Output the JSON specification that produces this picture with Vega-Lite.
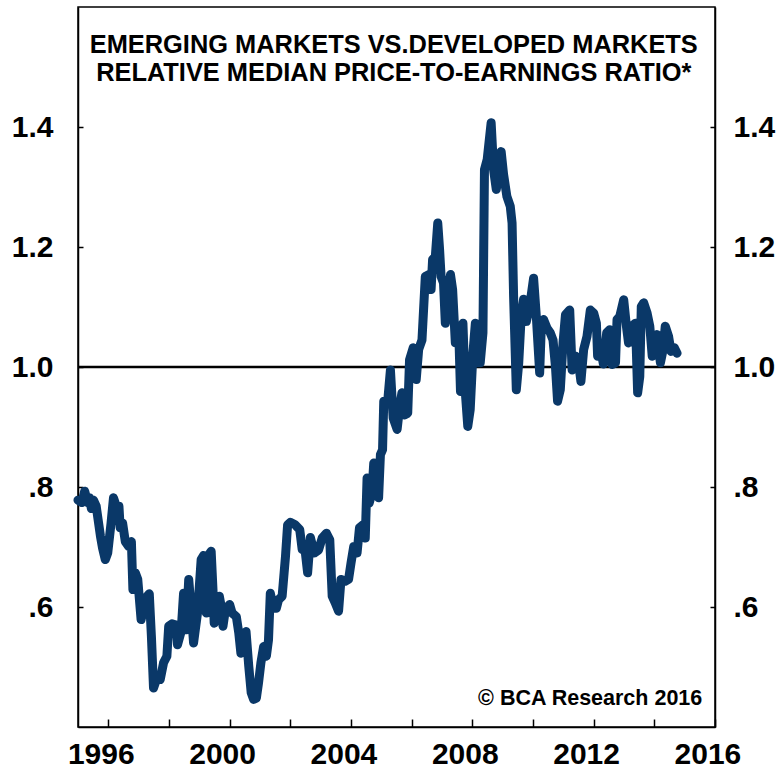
{
  "$schema": "https://vega.github.io/schema/vega-lite/v6.json",
  "width": 637,
  "height": 720,
  "autosize": {"type": "none"},
  "padding": {"left": 78, "top": 7, "right": 67, "bottom": 43},
  "background": "white",
  "config": {
    "view": {"stroke": "black", "strokeWidth": 1.5},
    "axis": {
      "grid": false,
      "domainColor": "black",
      "domainWidth": 1.5,
      "tickColor": "black",
      "tickWidth": 1.5,
      "labelFont": "Liberation Sans",
      "labelFontWeight": "bold",
      "labelFontSize": 30,
      "labelColor": "black",
      "labelOverlap": false,
      "labelFlush": false,
      "title": null
    }
  },
  "data": {
    "values": [
      {"t": 1995.25, "v": 0.778}, {"t": 1995.38, "v": 0.774}, {"t": 1995.47, "v": 0.793}, {"t": 1995.57, "v": 0.774},
      {"t": 1995.63, "v": 0.782}, {"t": 1995.69, "v": 0.764}, {"t": 1995.76, "v": 0.778}, {"t": 1995.85, "v": 0.768},
      {"t": 1995.99, "v": 0.718}, {"t": 1996.06, "v": 0.698}, {"t": 1996.15, "v": 0.679}, {"t": 1996.23, "v": 0.690},
      {"t": 1996.34, "v": 0.740}, {"t": 1996.42, "v": 0.782}, {"t": 1996.51, "v": 0.768}, {"t": 1996.60, "v": 0.768},
      {"t": 1996.64, "v": 0.732}, {"t": 1996.72, "v": 0.740}, {"t": 1996.81, "v": 0.709}, {"t": 1996.92, "v": 0.701},
      {"t": 1997.01, "v": 0.709}, {"t": 1997.06, "v": 0.629}, {"t": 1997.14, "v": 0.657}, {"t": 1997.22, "v": 0.646},
      {"t": 1997.33, "v": 0.579}, {"t": 1997.41, "v": 0.596}, {"t": 1997.53, "v": 0.618}, {"t": 1997.60, "v": 0.622},
      {"t": 1997.67, "v": 0.551}, {"t": 1997.74, "v": 0.465}, {"t": 1997.87, "v": 0.484}, {"t": 1997.96, "v": 0.479},
      {"t": 1998.07, "v": 0.507}, {"t": 1998.18, "v": 0.518}, {"t": 1998.24, "v": 0.568}, {"t": 1998.35, "v": 0.572},
      {"t": 1998.49, "v": 0.570}, {"t": 1998.53, "v": 0.537}, {"t": 1998.65, "v": 0.559}, {"t": 1998.73, "v": 0.623},
      {"t": 1998.82, "v": 0.562}, {"t": 1998.90, "v": 0.646}, {"t": 1998.98, "v": 0.596}, {"t": 1999.06, "v": 0.540},
      {"t": 1999.19, "v": 0.590}, {"t": 1999.31, "v": 0.679}, {"t": 1999.39, "v": 0.686}, {"t": 1999.48, "v": 0.590},
      {"t": 1999.56, "v": 0.687}, {"t": 1999.64, "v": 0.693}, {"t": 1999.70, "v": 0.629}, {"t": 1999.74, "v": 0.573},
      {"t": 1999.83, "v": 0.590}, {"t": 1999.91, "v": 0.618}, {"t": 1999.97, "v": 0.601}, {"t": 2000.03, "v": 0.568},
      {"t": 2000.11, "v": 0.596}, {"t": 2000.25, "v": 0.604}, {"t": 2000.33, "v": 0.590}, {"t": 2000.47, "v": 0.584},
      {"t": 2000.55, "v": 0.557}, {"t": 2000.62, "v": 0.523}, {"t": 2000.71, "v": 0.545}, {"t": 2000.79, "v": 0.559},
      {"t": 2000.88, "v": 0.501}, {"t": 2000.96, "v": 0.457}, {"t": 2001.04, "v": 0.446}, {"t": 2001.13, "v": 0.448},
      {"t": 2001.20, "v": 0.473}, {"t": 2001.28, "v": 0.507}, {"t": 2001.37, "v": 0.534}, {"t": 2001.46, "v": 0.518},
      {"t": 2001.53, "v": 0.545}, {"t": 2001.59, "v": 0.623}, {"t": 2001.70, "v": 0.598}, {"t": 2001.79, "v": 0.598},
      {"t": 2001.86, "v": 0.612}, {"t": 2001.98, "v": 0.618}, {"t": 2002.09, "v": 0.684}, {"t": 2002.16, "v": 0.737},
      {"t": 2002.25, "v": 0.741}, {"t": 2002.41, "v": 0.737}, {"t": 2002.56, "v": 0.729}, {"t": 2002.64, "v": 0.696},
      {"t": 2002.74, "v": 0.693}, {"t": 2002.82, "v": 0.657}, {"t": 2002.91, "v": 0.716}, {"t": 2003.04, "v": 0.690},
      {"t": 2003.18, "v": 0.695}, {"t": 2003.30, "v": 0.715}, {"t": 2003.44, "v": 0.723}, {"t": 2003.55, "v": 0.712},
      {"t": 2003.63, "v": 0.618}, {"t": 2003.73, "v": 0.607}, {"t": 2003.84, "v": 0.593}, {"t": 2003.92, "v": 0.646},
      {"t": 2004.06, "v": 0.643}, {"t": 2004.17, "v": 0.646}, {"t": 2004.25, "v": 0.673}, {"t": 2004.34, "v": 0.701},
      {"t": 2004.45, "v": 0.690}, {"t": 2004.53, "v": 0.732}, {"t": 2004.65, "v": 0.737}, {"t": 2004.72, "v": 0.715},
      {"t": 2004.78, "v": 0.815}, {"t": 2004.85, "v": 0.773}, {"t": 2004.94, "v": 0.790}, {"t": 2005.00, "v": 0.840},
      {"t": 2005.09, "v": 0.801}, {"t": 2005.16, "v": 0.782}, {"t": 2005.22, "v": 0.854}, {"t": 2005.29, "v": 0.862},
      {"t": 2005.33, "v": 0.943}, {"t": 2005.46, "v": 0.943}, {"t": 2005.55, "v": 0.995}, {"t": 2005.64, "v": 0.915},
      {"t": 2005.77, "v": 0.896}, {"t": 2005.85, "v": 0.932}, {"t": 2005.93, "v": 0.957}, {"t": 2006.01, "v": 0.920},
      {"t": 2006.12, "v": 0.923}, {"t": 2006.18, "v": 1.012}, {"t": 2006.30, "v": 1.032}, {"t": 2006.40, "v": 0.979},
      {"t": 2006.48, "v": 1.029}, {"t": 2006.59, "v": 1.045}, {"t": 2006.70, "v": 1.151}, {"t": 2006.81, "v": 1.154},
      {"t": 2006.89, "v": 1.129}, {"t": 2006.94, "v": 1.179}, {"t": 2007.03, "v": 1.184}, {"t": 2007.11, "v": 1.240},
      {"t": 2007.17, "v": 1.196}, {"t": 2007.22, "v": 1.151}, {"t": 2007.30, "v": 1.140}, {"t": 2007.36, "v": 1.073},
      {"t": 2007.44, "v": 1.107}, {"t": 2007.53, "v": 1.154}, {"t": 2007.60, "v": 1.129}, {"t": 2007.69, "v": 1.040},
      {"t": 2007.80, "v": 1.062}, {"t": 2007.86, "v": 0.959}, {"t": 2007.94, "v": 1.073}, {"t": 2008.02, "v": 0.957},
      {"t": 2008.10, "v": 0.901}, {"t": 2008.18, "v": 0.929}, {"t": 2008.27, "v": 1.023}, {"t": 2008.35, "v": 1.073},
      {"t": 2008.43, "v": 1.007}, {"t": 2008.51, "v": 1.007}, {"t": 2008.60, "v": 1.057}, {"t": 2008.65, "v": 1.329},
      {"t": 2008.74, "v": 1.346}, {"t": 2008.87, "v": 1.407}, {"t": 2008.95, "v": 1.329}, {"t": 2009.04, "v": 1.296},
      {"t": 2009.12, "v": 1.323}, {"t": 2009.20, "v": 1.359}, {"t": 2009.28, "v": 1.321}, {"t": 2009.39, "v": 1.284},
      {"t": 2009.50, "v": 1.268}, {"t": 2009.56, "v": 1.240}, {"t": 2009.61, "v": 1.118}, {"t": 2009.70, "v": 0.962},
      {"t": 2009.78, "v": 1.007}, {"t": 2009.86, "v": 1.084}, {"t": 2009.94, "v": 1.113}, {"t": 2010.03, "v": 1.076},
      {"t": 2010.14, "v": 1.101}, {"t": 2010.27, "v": 1.148}, {"t": 2010.36, "v": 1.084}, {"t": 2010.47, "v": 0.990},
      {"t": 2010.53, "v": 1.076}, {"t": 2010.60, "v": 1.079}, {"t": 2010.71, "v": 1.065}, {"t": 2010.82, "v": 1.057},
      {"t": 2010.91, "v": 1.045}, {"t": 2010.99, "v": 1.001}, {"t": 2011.06, "v": 0.943}, {"t": 2011.15, "v": 0.962},
      {"t": 2011.24, "v": 1.040}, {"t": 2011.32, "v": 1.087}, {"t": 2011.46, "v": 1.095}, {"t": 2011.54, "v": 0.995},
      {"t": 2011.65, "v": 1.018}, {"t": 2011.74, "v": 1.012}, {"t": 2011.83, "v": 0.976}, {"t": 2011.92, "v": 1.029},
      {"t": 2012.03, "v": 1.051}, {"t": 2012.14, "v": 1.095}, {"t": 2012.25, "v": 1.090}, {"t": 2012.34, "v": 1.073},
      {"t": 2012.38, "v": 1.018}, {"t": 2012.47, "v": 1.033}, {"t": 2012.57, "v": 1.005}, {"t": 2012.68, "v": 1.057},
      {"t": 2012.78, "v": 1.062}, {"t": 2012.86, "v": 1.004}, {"t": 2012.97, "v": 1.007}, {"t": 2013.02, "v": 1.079},
      {"t": 2013.11, "v": 1.084}, {"t": 2013.24, "v": 1.112}, {"t": 2013.33, "v": 1.068}, {"t": 2013.40, "v": 1.040},
      {"t": 2013.55, "v": 1.070}, {"t": 2013.63, "v": 1.073}, {"t": 2013.70, "v": 0.957}, {"t": 2013.77, "v": 0.984},
      {"t": 2013.82, "v": 1.101}, {"t": 2013.90, "v": 1.107}, {"t": 2014.01, "v": 1.090}, {"t": 2014.10, "v": 1.068},
      {"t": 2014.18, "v": 1.018}, {"t": 2014.26, "v": 1.051}, {"t": 2014.34, "v": 1.054}, {"t": 2014.45, "v": 1.007},
      {"t": 2014.54, "v": 1.029}, {"t": 2014.61, "v": 1.068}, {"t": 2014.72, "v": 1.051}, {"t": 2014.80, "v": 1.026},
      {"t": 2014.91, "v": 1.032}, {"t": 2015.00, "v": 1.023}
    ]
  },
  "layer": [
    {
      "data": {"values": [{}]},
      "mark": {"type": "rule", "color": "black", "strokeWidth": 2.5},
      "encoding": {
        "y": {
          "datum": 1.0,
          "type": "quantitative",
          "scale": {"domain": [0.4, 1.6], "nice": false, "zero": false},
          "axis": {
            "orient": "left",
            "values": [0.6, 0.8, 1.0, 1.2, 1.4],
            "labelExpr": "datum.value < 1 ? replace(format(datum.value, '.1f'), '0.', '.') : format(datum.value, '.1f')",
            "tickSize": -5,
            "labelPadding": 30,
            "labelAlign": "right"
          }
        }
      }
    },
    {
      "mark": {"type": "line", "color": "#0a3868", "strokeWidth": 9, "strokeJoin": "round", "strokeCap": "round"},
      "encoding": {
        "x": {
          "field": "t",
          "type": "quantitative",
          "scale": {"domain": [1995.25, 2016.25], "nice": false, "zero": false},
          "axis": {
            "orient": "bottom",
            "values": [1996, 1997, 1998, 1999, 2000, 2001, 2002, 2003, 2004, 2005, 2006, 2007, 2008, 2009, 2010, 2011, 2012, 2013, 2014, 2015, 2016],
            "labelExpr": "datum.value % 4 == 0 ? format(datum.value, 'd') : ''",
            "tickOffset": 7.6,
            "labelOffset": -7.6,
            "tickSize": -8,
            "labelPadding": 20
          }
        },
        "y": {
          "field": "v",
          "type": "quantitative",
          "scale": {"domain": [0.4, 1.6], "nice": false, "zero": false},
          "axis": {
            "orient": "right",
            "values": [0.6, 0.8, 1.0, 1.2, 1.4],
            "labelExpr": "datum.value < 1 ? replace(format(datum.value, '.1f'), '0.', '.') : format(datum.value, '.1f')",
            "tickSize": -5,
            "labelPadding": 23,
            "labelAlign": "left"
          }
        }
      }
    },
    {
      "data": {"values": [{}]},
      "mark": {"type": "text", "text": "EMERGING MARKETS VS.DEVELOPED MARKETS", "font": "Liberation Sans", "fontWeight": "bold", "fontSize": 25.4, "align": "center", "baseline": "middle", "color": "black"},
      "encoding": {
        "x": {"datum": 2005.66, "type": "quantitative"},
        "y": {"datum": 1.537, "type": "quantitative", "axis": null}
      }
    },
    {
      "data": {"values": [{}]},
      "mark": {"type": "text", "text": "RELATIVE MEDIAN PRICE-TO-EARNINGS RATIO*", "font": "Liberation Sans", "fontWeight": "bold", "fontSize": 25.4, "align": "center", "baseline": "middle", "color": "black"},
      "encoding": {
        "x": {"datum": 2005.66, "type": "quantitative"},
        "y": {"datum": 1.49, "type": "quantitative", "axis": null}
      }
    },
    {
      "data": {"values": [{}]},
      "mark": {"type": "text", "text": "© BCA Research 2016", "font": "Liberation Sans", "fontWeight": "bold", "fontSize": 21.5, "align": "right", "baseline": "middle", "color": "black"},
      "encoding": {
        "x": {"datum": 2015.83, "type": "quantitative"},
        "y": {"datum": 0.447, "type": "quantitative", "axis": null}
      }
    }
  ],
  "resolve": {"axis": {"y": "independent"}}
}
